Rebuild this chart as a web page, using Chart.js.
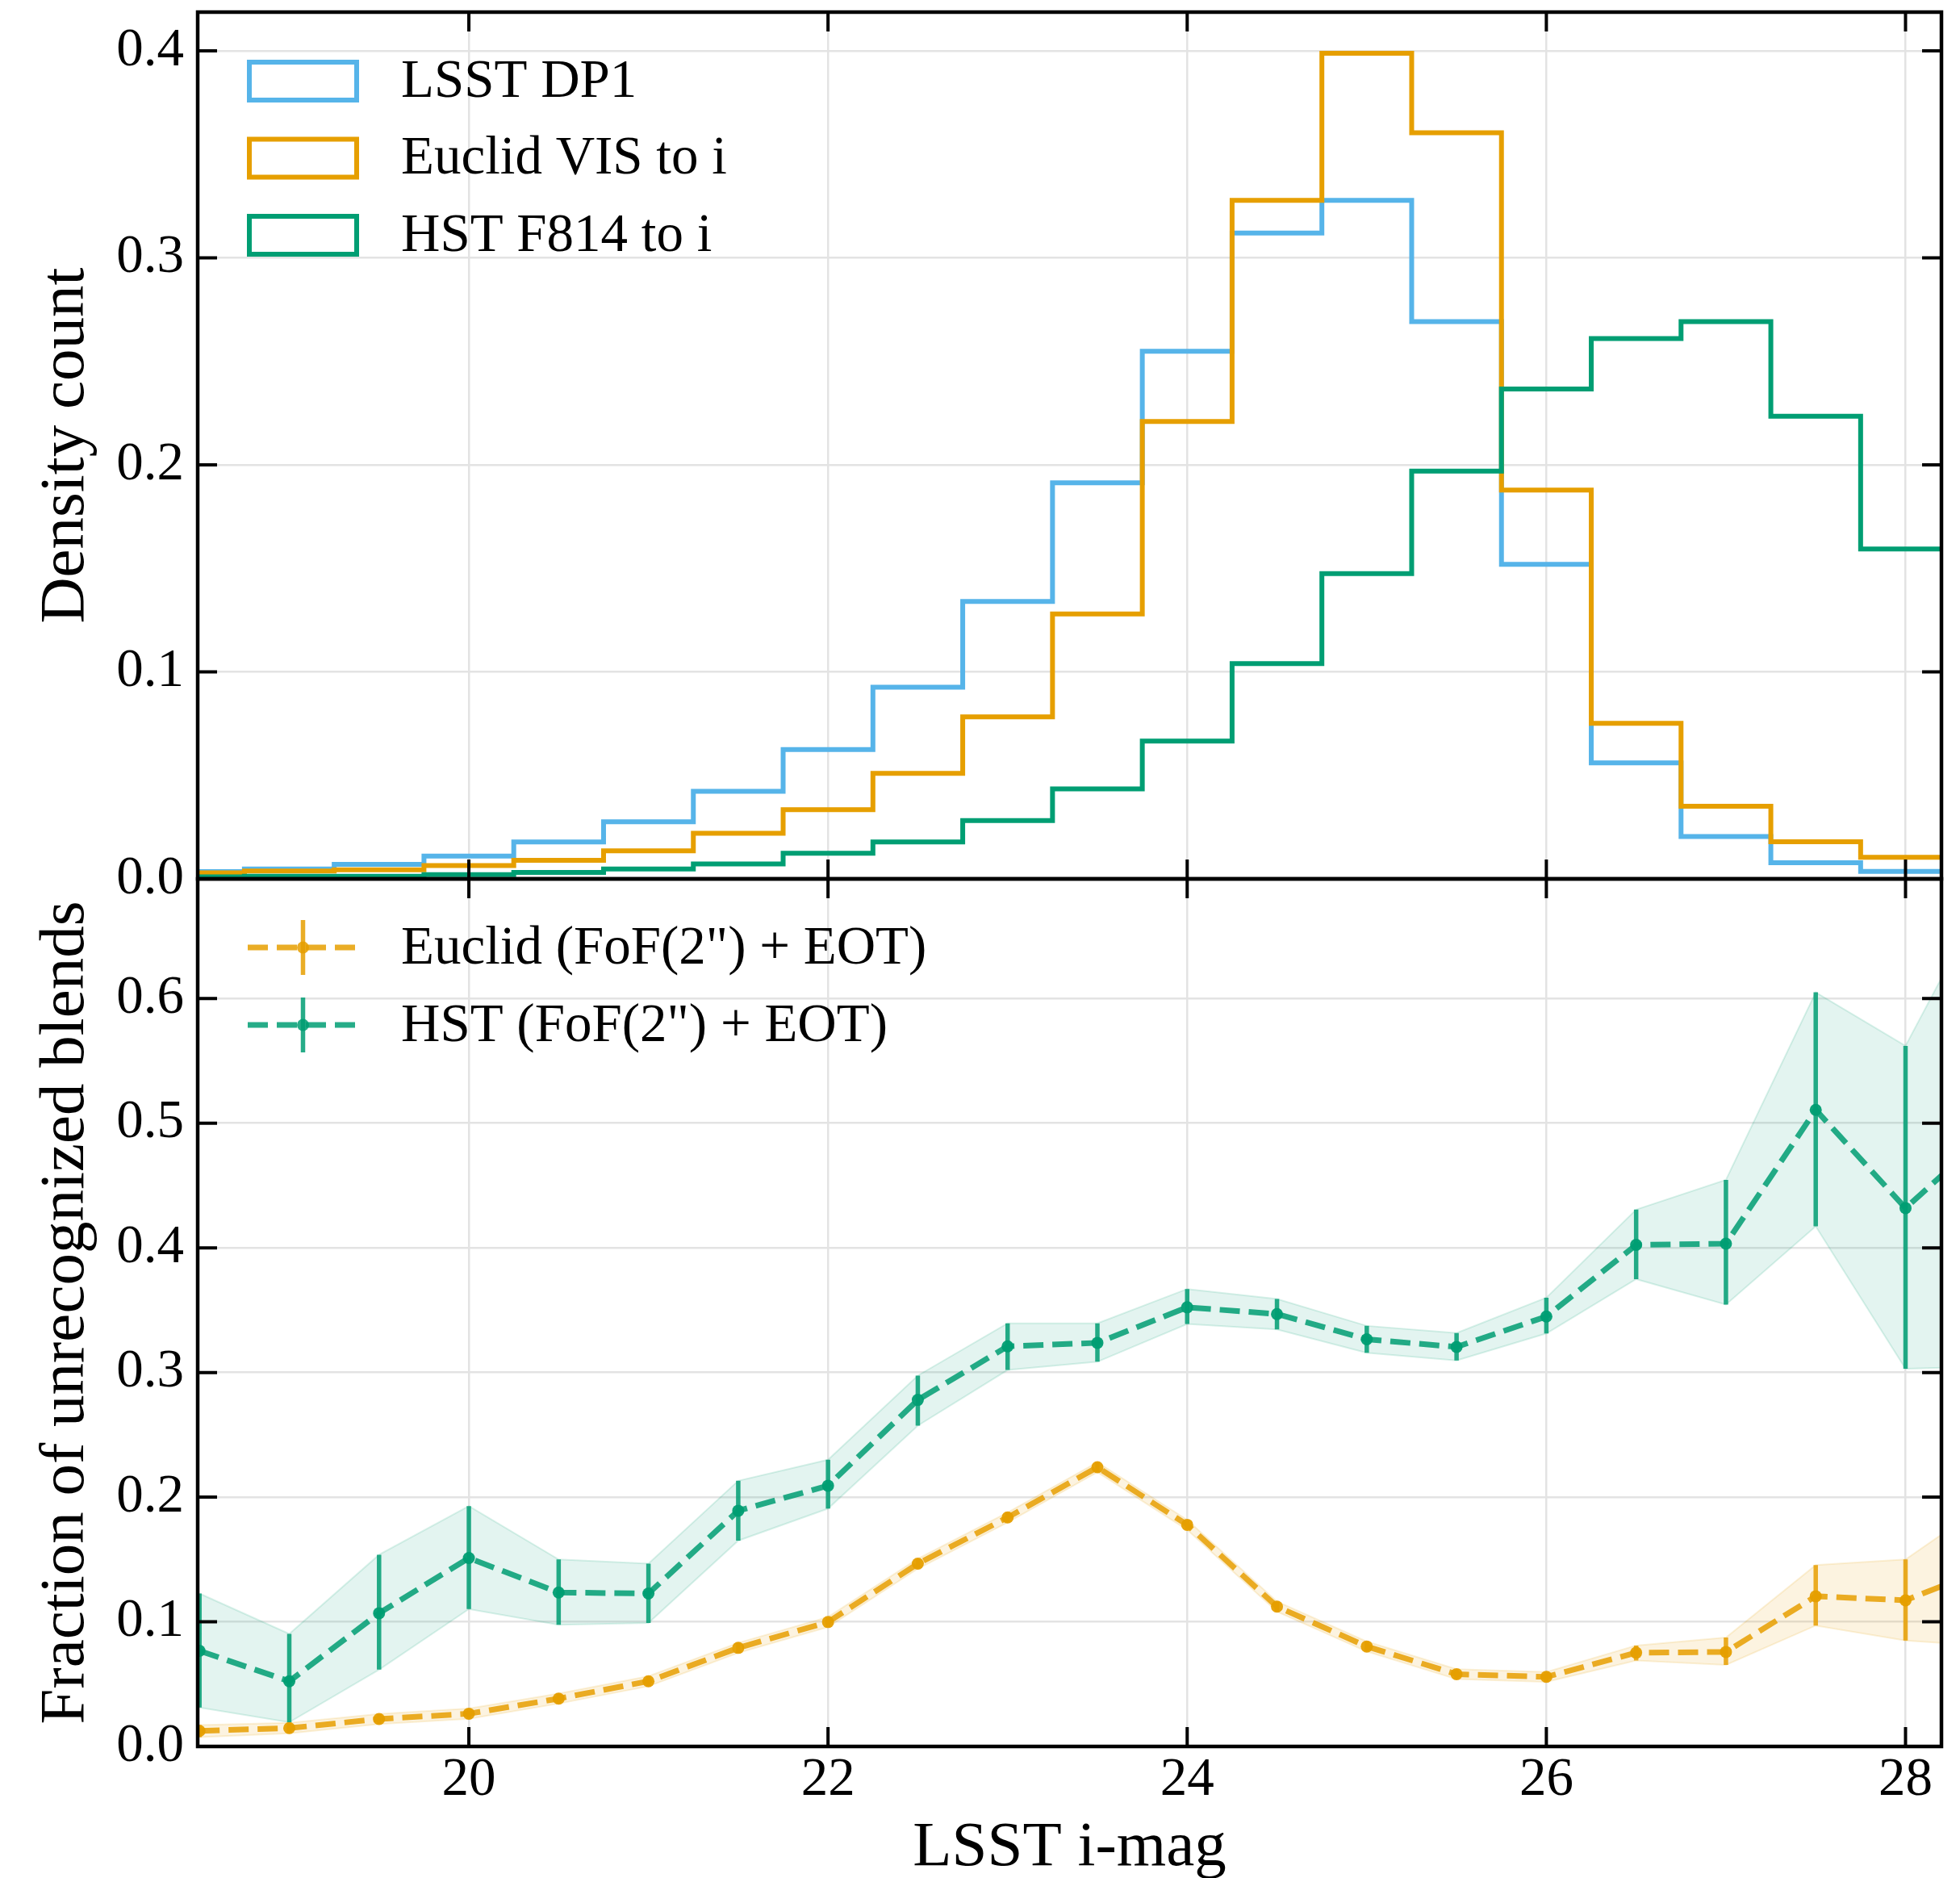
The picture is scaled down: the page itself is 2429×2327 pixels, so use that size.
<!DOCTYPE html>
<html><head><meta charset="utf-8">
<script src="https://cdn.jsdelivr.net/npm/chart.js@4.4.1/dist/chart.umd.min.js"></script>
<style>
html,body{margin:0;padding:0;background:#fff;}
#wrap{position:relative;width:2429px;height:2327px;overflow:hidden;background:#fff;}
canvas{position:absolute;left:0;top:0;}
</style></head><body>
<div id="wrap"><canvas id="topc" width="2429" height="2327"></canvas><canvas id="botc" width="2429" height="2327"></canvas></div>
<script>
// ---------------- data ----------------
const binLeftEdges = [18.25, 18.75, 19.25, 19.75, 20.25, 20.75, 21.25, 21.75, 22.25, 22.75, 23.25, 23.75, 24.25, 24.75, 25.25, 25.75, 26.25, 26.75, 27.25, 27.75];
const binRightEnd = 28.25;
const lsstDP1   = [0.0035, 0.0048, 0.007, 0.011, 0.0178, 0.0276, 0.0423, 0.0625, 0.0926, 0.134, 0.1913, 0.2549, 0.312, 0.3278, 0.2692, 0.1519, 0.056, 0.0205, 0.0078, 0.0036];
const euclidVIS = [0.0029, 0.0038, 0.0044, 0.0064, 0.009, 0.0135, 0.022, 0.0334, 0.051, 0.0783, 0.128, 0.2209, 0.3278, 0.3988, 0.3604, 0.1878, 0.0751, 0.0351, 0.0179, 0.0104];
const hstF814   = [0.001, 0.0013, 0.0013, 0.002, 0.0031, 0.0048, 0.0072, 0.0124, 0.0178, 0.0282, 0.0435, 0.0666, 0.104, 0.1475, 0.197, 0.2366, 0.261, 0.2692, 0.2235, 0.1594];

const magPoints  = [18.5, 19.0, 19.5, 20.0, 20.5, 21.0, 21.5, 22.0, 22.5, 23.0, 23.5, 24.0, 24.5, 25.0, 25.5, 26.0, 26.5, 27.0, 27.5, 28.0, 28.5];
const euclidFrac = [0.0125, 0.0147, 0.022, 0.0263, 0.0384, 0.0523, 0.0791, 0.0998, 0.1466, 0.1837, 0.224, 0.1778, 0.1122, 0.0802, 0.058, 0.0558, 0.0752, 0.0758, 0.1205, 0.1172, 0.1456];
const euclidLo   = [0.0075, 0.0105, 0.018, 0.0222, 0.0344, 0.0483, 0.0751, 0.0958, 0.1426, 0.1797, 0.220, 0.1738, 0.1082, 0.0762, 0.054, 0.0518, 0.069, 0.0654, 0.097, 0.085, 0.080];
const euclidHi   = [0.0172, 0.0189, 0.026, 0.0304, 0.0424, 0.0563, 0.0831, 0.1038, 0.1506, 0.1877, 0.228, 0.1818, 0.1162, 0.0842, 0.062, 0.0598, 0.081, 0.0874, 0.1455, 0.150, 0.200];
const hstFrac    = [0.0767, 0.0523, 0.1069, 0.1512, 0.1235, 0.1227, 0.1891, 0.2092, 0.278, 0.321, 0.3238, 0.3523, 0.3469, 0.3266, 0.3205, 0.3449, 0.4024, 0.4034, 0.5107, 0.4319, 0.497];
const hstLo      = [0.0313, 0.0194, 0.0616, 0.1102, 0.0976, 0.0991, 0.1651, 0.1908, 0.2574, 0.302, 0.3086, 0.3389, 0.3346, 0.3158, 0.3097, 0.3313, 0.3749, 0.3545, 0.4173, 0.303, 0.305];
const hstHi      = [0.1227, 0.0903, 0.1538, 0.1928, 0.150, 0.1466, 0.2131, 0.23, 0.2975, 0.3395, 0.3395, 0.367, 0.359, 0.3374, 0.3317, 0.36, 0.4307, 0.4545, 0.605, 0.562, 0.698];

const xTicks       = [20, 22, 24, 26, 28];
const yTicksTop    = [0.0, 0.1, 0.2, 0.3, 0.4];
const yTicksBottom = [0.0, 0.1, 0.2, 0.3, 0.4, 0.5, 0.6];

const topLegendLabels = ['LSST DP1', 'Euclid VIS to i', 'HST F814 to i'];
const botLegendLabels = ['Euclid (FoF(2") + EOT)', 'HST (FoF(2") + EOT)'];

// ---------------- style ----------------
const BLUE = '#56B4E9', ORANGE = '#E69F00', GREEN = '#009E73';
const ORANGE_L = 'rgba(230,159,0,0.85)', GREEN_L = 'rgba(0,158,115,0.85)';
const GRID = '#e3e3e3';
const FONT = "'Liberation Serif', 'Times New Roman', serif";
Chart.defaults.font.family = FONT;
Chart.defaults.color = '#000';

function stepData(vals) {
  const d = binLeftEdges.map((x, i) => ({x: x, y: vals[i]}));
  d.push({x: binRightEnd, y: vals[vals.length - 1]});
  return d;
}
function pts(xs, ys) { return xs.map((x, i) => ({x: x, y: ys[i]})); }
function errSegs(xs, lo, hi) {
  const d = [];
  xs.forEach((x, i) => { d.push({x: x, y: lo[i]}, {x: x, y: hi[i]}, {x: x, y: null}); });
  return d;
}

const framePlugin = {
  id: 'frame',
  afterDatasetsDraw(chart) {
    const {ctx, chartArea: a, scales} = chart;
    ctx.save();
    ctx.strokeStyle = '#000';
    ctx.lineCap = 'butt';
    ctx.lineWidth = 4;
    const L = 24;
    ctx.beginPath();
    scales.x.ticks.forEach(t => {
      const p = scales.x.getPixelForValue(t.value);
      ctx.moveTo(p, a.top); ctx.lineTo(p, a.top + L);
      ctx.moveTo(p, a.bottom); ctx.lineTo(p, a.bottom - L);
    });
    scales.y.ticks.forEach(t => {
      const p = scales.y.getPixelForValue(t.value);
      ctx.moveTo(a.left, p); ctx.lineTo(a.left + L, p);
      ctx.moveTo(a.right, p); ctx.lineTo(a.right - L, p);
    });
    ctx.stroke();
    ctx.lineWidth = 4.5;
    ctx.strokeRect(a.left, a.top, a.right - a.left, a.bottom - a.top);
    ctx.restore();
  }
};

const topLegendPlugin = {
  id: 'topLegend',
  afterDraw(chart) {
    const {ctx, chartArea: a} = chart;
    const colors = [BLUE, ORANGE, GREEN];
    ctx.save();
    topLegendLabels.forEach((lab, i) => {
      const cy = a.top + 85 + i * 95.5;
      ctx.strokeStyle = colors[i];
      ctx.lineWidth = 6;
      ctx.lineJoin = 'miter';
      ctx.strokeRect(a.left + 64, cy - 23, 133, 47);
      ctx.fillStyle = '#000';
      ctx.font = '67px ' + FONT;
      ctx.textBaseline = 'middle';
      ctx.textAlign = 'left';
      ctx.fillText(lab, a.left + 252, cy + 2);
    });
    ctx.restore();
  }
};

const botLegendPlugin = {
  id: 'botLegend',
  afterDraw(chart) {
    const {ctx, chartArea: a} = chart;
    const colors = [ORANGE_L, GREEN_L];
    ctx.save();
    botLegendLabels.forEach((lab, i) => {
      const cy = a.top + 85 + i * 96;
      const x0 = a.left + 62, x1 = a.left + 199, xc = (x0 + x1) / 2;
      ctx.strokeStyle = colors[i];
      ctx.lineWidth = 7;
      ctx.setLineDash([25, 11]);
      ctx.beginPath(); ctx.moveTo(x0, cy); ctx.lineTo(x1, cy); ctx.stroke();
      ctx.setLineDash([]);
      ctx.lineWidth = 5.5;
      ctx.beginPath(); ctx.moveTo(xc, cy - 34); ctx.lineTo(xc, cy + 34); ctx.stroke();
      ctx.fillStyle = colors[i];
      ctx.beginPath(); ctx.arc(xc, cy, 7.5, 0, Math.PI * 2); ctx.fill();
      ctx.fillStyle = '#000';
      ctx.font = '67px ' + FONT;
      ctx.textBaseline = 'middle';
      ctx.textAlign = 'left';
      ctx.fillText(lab, a.left + 252, cy + 2);
    });
    ctx.restore();
  }
};

const X_MIN = 18.49, X_MAX = 28.2;

function zeroPad(s) { s.paddingTop = 0; s.paddingBottom = 0; s.paddingLeft = 0; s.paddingRight = 0; }

function xScale(showLabels) {
  return {
    type: 'linear', min: X_MIN, max: X_MAX,
    afterBuildTicks: s => { s.ticks = xTicks.map(v => ({value: v})); },
    ticks: {display: showLabels, font: {size: 67}, color: '#000', padding: 2, callback: v => String(v)},
    grid: {color: GRID, lineWidth: 2.5, drawTicks: false},
    border: {display: false},
    title: showLabels ? {display: true, text: 'LSST i-mag', font: {size: 79, lineHeight: 0.94}, color: '#000', padding: {top: 0, bottom: 0}} : {display: false},
    afterFit: s => { s.height = showLabels ? 163 : 0; zeroPad(s); }
  };
}
function yScale(max, tickVals, title) {
  return {
    type: 'linear', min: 0, max: max,
    afterBuildTicks: s => { s.ticks = tickVals.map(v => ({value: v})); },
    ticks: {font: {size: 67}, color: '#000', padding: 17, callback: v => Number(v).toFixed(1)},
    grid: {color: GRID, lineWidth: 2.5, drawTicks: false},
    border: {display: false},
    title: {display: true, text: title, font: {size: 79, lineHeight: 1.2}, color: '#000', padding: {top: 35, bottom: 0}},
    afterFit: s => { s.width = 245; zeroPad(s); }
  };
}

const common = {
  responsive: false, animation: false, devicePixelRatio: 1,
  plugins: {legend: {display: false}, tooltip: {enabled: false}},
  elements: {line: {tension: 0}}
};

new Chart(document.getElementById('topc'), {
  type: 'line',
  data: {datasets: [
    {label: 'LSST DP1', data: stepData(lsstDP1), stepped: 'before', borderColor: BLUE, borderWidth: 6, pointRadius: 0, fill: false, order: 3, clip: 0, borderJoinStyle: 'miter'},
    {label: 'Euclid VIS to i', data: stepData(euclidVIS), stepped: 'before', borderColor: ORANGE, borderWidth: 6, pointRadius: 0, fill: false, order: 2, clip: 0, borderJoinStyle: 'miter'},
    {label: 'HST F814 to i', data: stepData(hstF814), stepped: 'before', borderColor: GREEN, borderWidth: 6, pointRadius: 0, fill: false, order: 1, clip: 0, borderJoinStyle: 'miter'}
  ]},
  options: Object.assign({}, common, {
    layout: {padding: {left: 0, right: 23, top: 15, bottom: 1238}},
    scales: {x: xScale(false), y: yScale(0.4187, yTicksTop, 'Density count')}
  }),
  plugins: [framePlugin, topLegendPlugin]
});

new Chart(document.getElementById('botc'), {
  type: 'line',
  data: {datasets: [
    {label: 'Euclid upper', data: pts(magPoints, euclidHi), fill: '+1', backgroundColor: 'rgba(230,159,0,0.12)', borderColor: 'rgba(230,159,0,0.15)', borderWidth: 2, pointRadius: 0, order: 10, clip: 0},
    {label: 'Euclid lower', data: pts(magPoints, euclidLo), fill: false, borderColor: 'rgba(230,159,0,0.15)', borderWidth: 2, pointRadius: 0, order: 10, clip: 0},
    {label: 'HST upper', data: pts(magPoints, hstHi), fill: '+1', backgroundColor: 'rgba(0,158,115,0.11)', borderColor: 'rgba(0,158,115,0.15)', borderWidth: 2, pointRadius: 0, order: 9, clip: 0},
    {label: 'HST lower', data: pts(magPoints, hstLo), fill: false, borderColor: 'rgba(0,158,115,0.15)', borderWidth: 2, pointRadius: 0, order: 9, clip: 0},
    {label: 'Euclid err', data: errSegs(magPoints, euclidLo, euclidHi), spanGaps: false, borderColor: ORANGE_L, borderWidth: 5.5, pointRadius: 0, fill: false, order: 6, clip: 0},
    {label: botLegendLabels[0], data: pts(magPoints, euclidFrac), borderColor: ORANGE_L, borderWidth: 7, borderDash: [25, 11], pointRadius: 7.5, pointBackgroundColor: 'rgba(230,159,0,0.95)', pointBorderWidth: 0, fill: false, order: 5, clip: 0},
    {label: 'HST err', data: errSegs(magPoints, hstLo, hstHi), spanGaps: false, borderColor: GREEN_L, borderWidth: 5.5, pointRadius: 0, fill: false, order: 4, clip: 0},
    {label: botLegendLabels[1], data: pts(magPoints, hstFrac), borderColor: GREEN_L, borderWidth: 7, borderDash: [25, 11], pointRadius: 7.5, pointBackgroundColor: 'rgba(0,158,115,0.95)', pointBorderWidth: 0, fill: false, order: 3, clip: 0}
  ]},
  options: Object.assign({}, common, {
    layout: {padding: {left: 0, right: 23, top: 1089, bottom: 0}},
    scales: {x: xScale(true), y: yScale(0.696, yTicksBottom, 'Fraction of unrecognized blends')}
  }),
  plugins: [framePlugin, botLegendPlugin]
});
</script>
</body></html>
